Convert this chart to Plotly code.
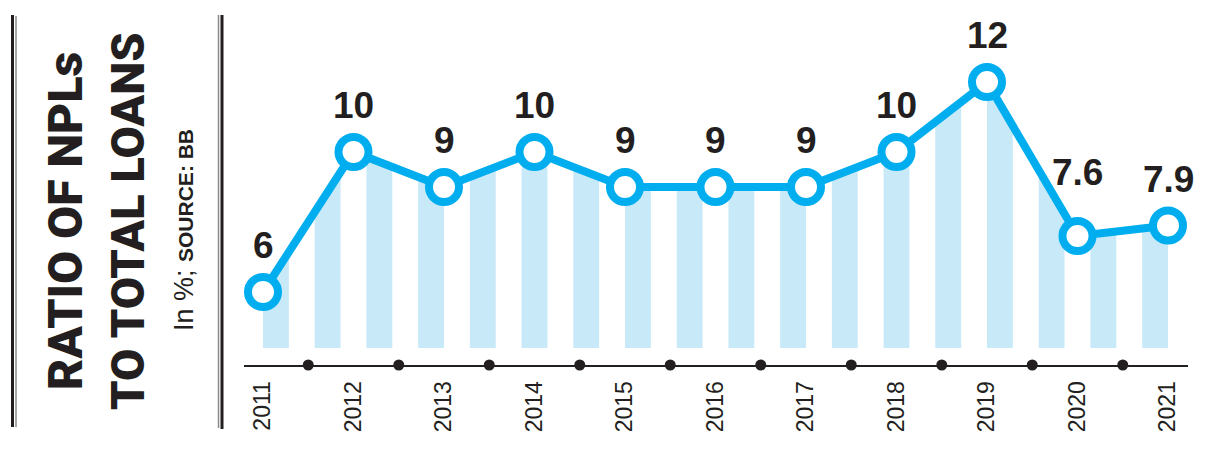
import numpy as np
import plotly.graph_objects as go

# ---- data ----
years = [2011, 2012, 2013, 2014, 2015, 2016, 2017, 2018, 2019, 2020, 2021]
npl_ratio = [6, 10, 9, 10, 9, 9, 9, 10, 12, 7.6, 7.9]
value_labels = ["6", "10", "9", "10", "9", "9", "9", "10", "12", "7.6", "7.9"]
year_labels = [str(y) for y in years]

# ---- styles ----
BLUE = "#00AEEF"
STRIPE = "#C8E9F8"
INK = "#231F20"
FONT = "Liberation Sans, Arial, sans-serif"
HEAVY = "Roboto, Liberation Sans, sans-serif"

W, H = 1205, 455
X0_PX, X1_PX = 244, 1188
AXIS_PX = 365
px_per_year = 90.5
px_per_unit = 35.0
x_range = [2011 - (263 - X0_PX) / px_per_year, 2011 + (X1_PX - 263) / px_per_year]
y_top = 10 + 152 / px_per_unit
y_bot = 10 - (AXIS_PX - 152) / px_per_unit
base = 4.4

# stripe polygons under the line
n_halves = 35
h = (years[-1] - years[0]) / n_halves
sx, sy = [], []
for k in range(0, n_halves, 2):
    xa = years[0] + k * h
    xb = xa + h
    inner = [(x, v) for x, v in zip(years, npl_ratio) if xa < x < xb]
    sx += [xa, xa] + [p[0] for p in inner] + [xb, xb, None]
    sy += [base, float(np.interp(xa, years, npl_ratio))] + [p[1] for p in inner] + \
          [float(np.interp(xb, years, npl_ratio)), base, None]

fig = go.Figure()
fig.add_trace(go.Scatter(x=sx, y=sy, mode="lines", fill="toself", fillcolor=STRIPE,
                         line=dict(width=0), hoverinfo="skip", showlegend=False))
fig.add_trace(go.Scatter(x=years, y=npl_ratio, mode="lines+markers",
                         line=dict(color=BLUE, width=8),
                         marker=dict(size=30, color="white", line=dict(color=BLUE, width=8)),
                         cliponaxis=False, showlegend=False))
# dots on the axis between years
mids = [y + 0.5 for y in years[:-1]]
fig.add_trace(go.Scatter(x=mids, y=[y_bot] * len(mids), mode="markers",
                         marker=dict(size=11, color=INK), cliponaxis=False, showlegend=False))

annotations = []
for x, v, t in zip(years, npl_ratio, value_labels):
    shift = 52 if t == "7.6" else 35
    annotations.append(dict(x=x, y=v, xref="x", yref="y", text=f"<b>{t}</b>", showarrow=False,
                            xanchor="center", yanchor="bottom", yshift=shift - 11,
                            font=dict(family=FONT, size=37, color=INK)))

# title block
annotations += [
    dict(x=65 / W, y=1 - 221 / H, xref="paper", yref="paper", text="RATIO OF NPLs",
         textangle=-90, showarrow=False, xanchor="center", yanchor="middle",
         font=dict(family=HEAVY, size=48, color=INK, weight=900)),
    dict(x=127 / W, y=1 - 221 / H, xref="paper", yref="paper", text="TO TOTAL LOANS",
         textangle=-90, showarrow=False, xanchor="center", yanchor="middle",
         font=dict(family=HEAVY, size=47, color=INK, weight=900)),
    dict(x=184 / W, y=1 - 230 / H, xref="paper", yref="paper",
         text="In %; <b><span style='font-size:21px'>SOURCE: BB</span></b>",
         textangle=-90, showarrow=False, xanchor="center", yanchor="middle",
         font=dict(family=FONT, size=27, color=INK)),
]

shapes = [
    dict(type="line", xref="paper", yref="paper", x0=12.5 / W, x1=12.5 / W, y0=1 - 15 / H, y1=1 - 427 / H,
         line=dict(color=INK, width=3)),
    dict(type="line", xref="paper", yref="paper", x0=16 / W, x1=16 / W, y0=1 - 16 / H, y1=1 - 427 / H,
         line=dict(color="#8a8a8a", width=1.5)),
    dict(type="line", xref="paper", yref="paper", x0=218.5 / W, x1=218.5 / W, y0=1 - 15 / H, y1=1 - 428 / H,
         line=dict(color="#8a8a8a", width=1.5)),
    dict(type="line", xref="paper", yref="paper", x0=222 / W, x1=222 / W, y0=1 - 15 / H, y1=1 - 429 / H,
         line=dict(color=INK, width=3)),
]

fig.update_layout(
    width=W, height=H, margin=dict(l=0, r=0, t=0, b=0),
    paper_bgcolor="white", plot_bgcolor="white",
    xaxis=dict(domain=[X0_PX / W, X1_PX / W], range=x_range, showgrid=False, zeroline=False,
               showline=True, linecolor=INK, linewidth=2, ticks="",
               tickmode="array", tickvals=years, ticktext=year_labels, tickangle=-90,
               tickfont=dict(family=FONT, size=23, color=INK), ticklabelstandoff=5,
               fixedrange=True),
    yaxis=dict(domain=[(H - AXIS_PX) / H, 1], range=[y_bot, y_top], visible=False, fixedrange=True),
    annotations=annotations, shapes=shapes,
)

fig.write_html("out.html", config={"displayModeBar": False},
               post_script="document.body.style.margin='0';")
